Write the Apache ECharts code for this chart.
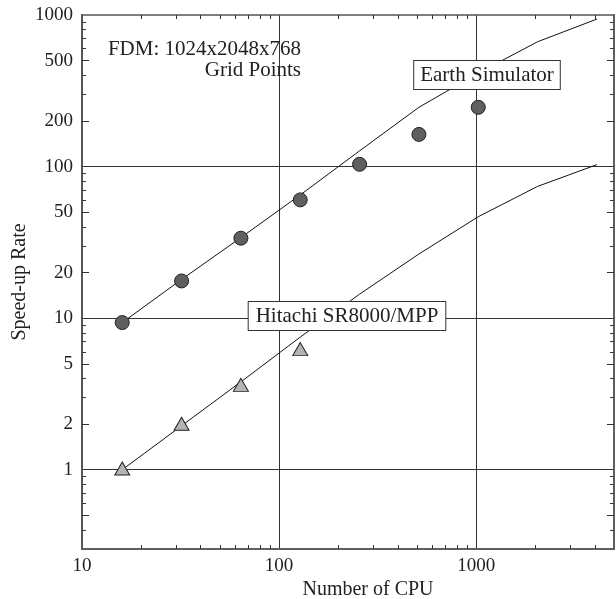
<!DOCTYPE html>
<html>
<head>
<meta charset="utf-8">
<script src="https://cdn.jsdelivr.net/npm/echarts@6/dist/echarts.min.js"></script>
<style>
html,body{margin:0;padding:0;background:#fff;}
#chart{width:616px;height:599px;}
</style>
</head>
<body>
<div id="chart"></div>
<script>
// ---- data ----
const cpuCounts = [16, 32, 64, 128, 256, 512, 1024, 2048, 4096];
const esLine = [9.35, 18, 34, 65, 127, 246, 414, 666, 940];
const esPointsCpu = [16, 32, 64, 128, 256, 512, 1024];
const esPoints = [9.35, 17.6, 33.7, 60.3, 103.5, 163, 246];
const hiLine = [1.0, 1.95, 3.8, 7.5, 14.4, 26.5, 46.7, 74, 103];
const hiPointsCpu = [16, 32, 64, 128];
const hiPoints = [1.02, 2.01, 3.63, 6.25];

const xLabels = [10, 100, 1000];
const xMinorTicks = [20, 30, 40, 50, 60, 70, 80, 90, 200, 300, 400, 500, 600, 700, 800, 900, 2000, 3000, 4000];
const xGrid = [100, 1000];
const yLabels = [1, 2, 5, 10, 20, 50, 100, 200, 500, 1000];
const yMajorTicks = [0.5, 2, 5, 20, 50, 200, 500];
const yMinorTicks = [0.4, 0.6, 0.7, 0.8, 0.9, 3, 4, 6, 7, 8, 9, 30, 40, 60, 70, 80, 90, 300, 400, 600, 700, 800, 900];
const yGrid = [1, 10, 100];

const FONT = 'Liberation Serif';
const XMIN = 10, XMAX = 5000, YMIN = 0.3, YMAX = 1000;

function pairs(xs, ys) { return xs.map((x, i) => [x, ys[i]]); }

function xAx(o) {
  return Object.assign({
    type: 'log', logBase: 10, min: XMIN, max: XMAX, gridIndex: 0,
    axisLine: { show: true, lineStyle: { color: '#555', width: 1.5 } },
    axisLabel: { show: false },
    axisTick: { show: false },
    splitLine: { show: false },
    minorTick: { show: false }, minorSplitLine: { show: false }
  }, o);
}
function yAx(o) {
  return Object.assign({
    type: 'log', logBase: 10, min: YMIN, max: YMAX, gridIndex: 0,
    axisLine: { show: true, lineStyle: { color: '#555', width: 1.5 } },
    axisLabel: { show: false },
    axisTick: { show: false },
    splitLine: { show: false },
    minorTick: { show: false }, minorSplitLine: { show: false }
  }, o);
}

const tickStyle = { color: '#333', width: 1 };

const option = {
  backgroundColor: '#fff',
  animation: false,
  grid: { left: 82, top: 15, right: 2, bottom: 50, containLabel: false, outerBoundsMode: 'none' },
  xAxis: [
    xAx({
      position: 'bottom',
      name: 'Number of CPU', nameLocation: 'middle', nameGap: 31, nameMoveOverlap: false,
      nameTextStyle: { fontFamily: FONT, fontSize: 20, color: '#222', padding: [0, 0, 0, 40] },
      axisLabel: { show: true, customValues: xLabels, formatter: v => String(v), margin: 8,
        fontFamily: FONT, fontSize: 19, color: '#222' },
      axisTick: { show: true, inside: true, length: 4, customValues: xMinorTicks, lineStyle: tickStyle }
    }),
    xAx({
      position: 'bottom',
      axisTick: { show: false, customValues: xGrid },
      splitLine: { show: true, lineStyle: { color: '#333', width: 1 } }
    }),
    xAx({
      position: 'top',
      axisTick: { show: true, inside: true, length: 4, customValues: xMinorTicks, lineStyle: tickStyle }
    })
  ],
  yAxis: [
    yAx({
      position: 'left',
      name: 'Speed-up Rate', nameLocation: 'middle', nameGap: 52, nameMoveOverlap: false,
      nameTextStyle: { fontFamily: FONT, fontSize: 20, color: '#222' },
      axisLabel: { show: true, customValues: yLabels, formatter: v => String(v), margin: 9,
        fontFamily: FONT, fontSize: 19, color: '#222' },
      axisTick: { show: true, inside: true, length: 7, customValues: yMajorTicks, lineStyle: tickStyle }
    }),
    yAx({
      position: 'left',
      axisTick: { show: true, inside: true, length: 4, customValues: yMinorTicks, lineStyle: tickStyle }
    }),
    yAx({
      position: 'left',
      axisTick: { show: false, customValues: yGrid },
      splitLine: { show: true, lineStyle: { color: '#333', width: 1 } }
    }),
    yAx({
      position: 'right',
      axisTick: { show: true, inside: true, length: 7, customValues: yMajorTicks, lineStyle: tickStyle }
    }),
    yAx({
      position: 'right',
      axisTick: { show: true, inside: true, length: 4, customValues: yMinorTicks, lineStyle: tickStyle }
    })
  ],
  series: [
    {
      name: 'Earth Simulator ideal', type: 'line', xAxisIndex: 0, yAxisIndex: 0,
      data: pairs(cpuCounts, esLine), showSymbol: false, symbol: 'none',
      lineStyle: { color: '#111', width: 1 }, z: 2
    },
    {
      name: 'Hitachi ideal', type: 'line', xAxisIndex: 0, yAxisIndex: 0,
      data: pairs(cpuCounts, hiLine), showSymbol: false, symbol: 'none',
      lineStyle: { color: '#111', width: 1 }, z: 2
    },
    {
      name: 'Earth Simulator', type: 'scatter', xAxisIndex: 0, yAxisIndex: 0,
      data: pairs(esPointsCpu, esPoints), symbol: 'circle', symbolSize: 14,
      itemStyle: { color: '#5f5f5f', borderColor: '#222', borderWidth: 1, opacity: 1 }, z: 3
    },
    {
      name: 'Hitachi SR8000/MPP', type: 'scatter', xAxisIndex: 0, yAxisIndex: 0,
      data: pairs(hiPointsCpu, hiPoints), symbol: 'triangle', symbolSize: [15, 13],
      itemStyle: { color: '#b4b4b8', borderColor: '#222', borderWidth: 1, opacity: 1 }, z: 3
    }
  ],
  graphic: [
    {
      type: 'text', x: 301, y: 39, z: 100,
      style: { text: 'FDM: 1024x2048x768\nGrid Points', align: 'right', verticalAlign: 'top',
        font: '21px "Liberation Serif"', fill: '#222', lineHeight: 21 }
    },
    {
      type: 'text', x: 487, y: 75, z: 100,
      style: { text: 'Earth Simulator', align: 'center', verticalAlign: 'middle',
        font: '21px "Liberation Serif"', fill: '#222',
        backgroundColor: '#fff', borderColor: '#333', borderWidth: 1, padding: [4, 6, 3, 6] }
    },
    {
      type: 'text', x: 347, y: 316, z: 100,
      style: { text: 'Hitachi SR8000/MPP', align: 'center', verticalAlign: 'middle',
        font: '21px "Liberation Serif"', fill: '#222',
        backgroundColor: '#fff', borderColor: '#333', borderWidth: 1, padding: [4, 7, 3, 7] }
    }
  ]
};

const chart = echarts.init(document.getElementById('chart'), null, { renderer: 'canvas' });
chart.setOption(option);
</script>
</body>
</html>
